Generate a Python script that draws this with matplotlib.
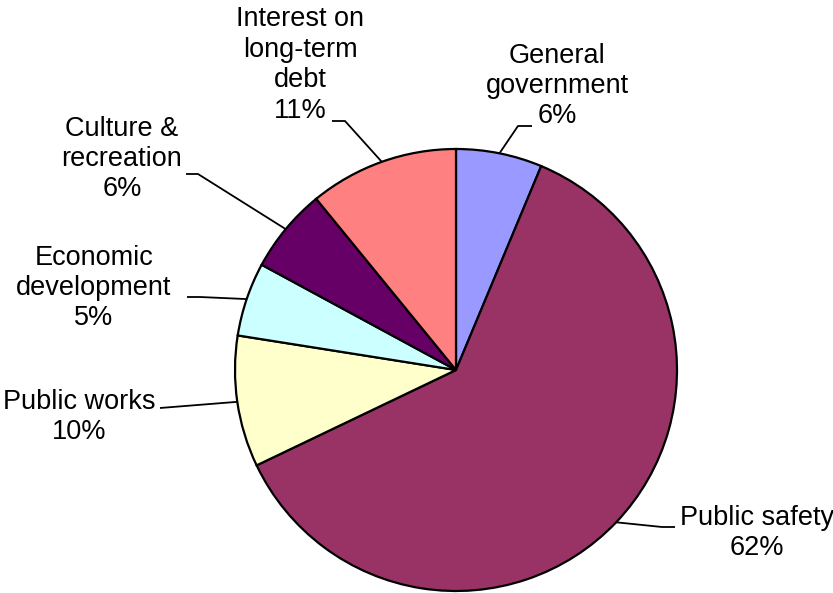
import numpy as np
import matplotlib
matplotlib.use("Agg")
import matplotlib.pyplot as plt

plt.rcParams['font.family'] = ['Liberation Sans', 'DejaVu Sans']

categories = ["General\ngovernment", "Public safety", "Public works",
              "Economic\ndevelopment", "Culture &\nrecreation",
              "Interest on\nlong-term\ndebt"]
values = [6.3, 61.6, 9.6, 5.4, 6.2, 10.9]
colors = ["#9999FF", "#993366", "#FFFFCC", "#CCFFFF", "#660066", "#FF8080"]

W, H = 833, 593
fig = plt.figure(figsize=(W / 100, H / 100), dpi=100)
ax = fig.add_axes([0, 0, 1, 1])

cx, cy, R = 456, H - 370, 221
wedges, _ = ax.pie(values, colors=colors, startangle=90, counterclock=False,
                   center=(cx, cy), radius=R,
                   wedgeprops=dict(edgecolor="black", linewidth=1.6))
ax.set_xlim(0, W)
ax.set_ylim(0, H)
ax.set_aspect("equal")
ax.axis("off")

# label layout: text centre (px, y down), elbow point, horizontal end point
layout = [
    ((557, 86), (518, 126), (532, 126)),
    ((757, 533), (662, 527), (675, 527)),
    ((79, 417), None, (160, 408)),
    ((94, 288), (200, 297), (187, 297)),
    ((122, 159), (198, 174), (186, 174)),
    ((300, 65), (345, 121), (332, 121)),
]

total = sum(values)
pcts = [round(v / total * 100) for v in values]
for w, cat, p, (tpos, elbow, hend) in zip(wedges, categories, pcts, layout):
    mid = np.deg2rad((w.theta1 + w.theta2) / 2)
    ex, ey = cx + R * np.cos(mid), cy + R * np.sin(mid)
    xs = [ex]
    ys = [ey]
    if elbow is not None:
        xs.append(elbow[0]); ys.append(H - elbow[1])
    xs.append(hend[0]); ys.append(H - hend[1])
    ax.plot(xs, ys, color="black", lw=1.3, solid_capstyle="butt")
    ax.text(tpos[0], H - tpos[1], f"{cat}\n{p}%", ha="center", va="center",
            fontsize=19.5, linespacing=1.22, multialignment="center")

fig.savefig("out.png", dpi=100)
